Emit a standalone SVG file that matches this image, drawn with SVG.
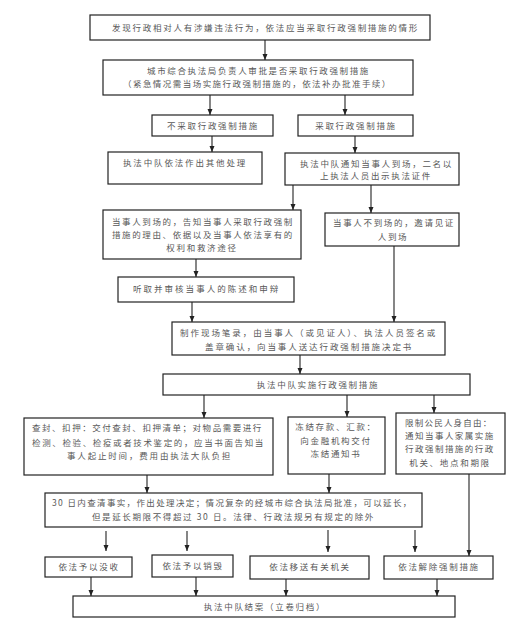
<svg xmlns="http://www.w3.org/2000/svg" width="518" height="630" viewBox="0 0 518 630">
<defs>
<style>
.b{fill:#fff;stroke:#222;stroke-width:1.2}
.t{font-family:"Noto Sans CJK SC","Noto Sans",sans-serif;font-size:8.5px;fill:#585858;letter-spacing:1.7px}
.m{text-anchor:middle}
.c line,.c polyline{stroke:#222;stroke-width:1.1;fill:none;marker-end:url(#a)}
</style>
<marker id="a" markerUnits="userSpaceOnUse" markerWidth="6" markerHeight="6" viewBox="0 0 6 6" refX="6" refY="3" orient="auto"><path d="M0,0.5 L6,3 L0,5.5 z" fill="#222"/></marker>
</defs>
<rect width="518" height="630" fill="#fff"/>
<g id="n1"><rect class="b" x="90" y="15" width="340" height="25"/><text class="t" x="112" y="31" textLength="307">发现行政相对人有涉嫌违法行为，依法应当采取行政强制措施的情形</text></g>
<g id="n2"><rect class="b" x="103" y="60" width="310" height="35"/><text class="t" x="147" y="74" textLength="223">城市综合执法局负责人审批是否采取行政强制措施</text><text class="t" x="123" y="87" textLength="269">（紧急情况需当场实施行政强制措施的，依法补办批准手续）</text></g>
<g id="n3"><rect class="b" x="152" y="115" width="121" height="21"/><text class="t m" x="213" y="129">不采取行政强制措施</text></g>
<g id="n4"><rect class="b" x="298" y="115" width="115" height="21"/><text class="t m" x="356" y="129">采取行政强制措施</text></g>
<g id="n5"><rect class="b" x="108" y="152" width="154" height="32"/><text class="t" x="123" y="166" textLength="124">执法中队依法作出其他处理</text></g>
<g id="n6"><rect class="b" x="285" y="153" width="174" height="32"/><text class="t" x="300" y="167" textLength="153">执法中队通知当事人到场，二名以</text><text class="t" x="320" y="179" textLength="112">上执法人员出示执法证件</text></g>
<g id="n7"><rect class="b" x="103" y="210" width="198" height="49"/><text class="t" x="112" y="225" textLength="182">当事人到场的，告知当事人采取行政强制</text><text class="t" x="112" y="238" textLength="182">措施的理由、依据以及当事人依法享有的</text><text class="t m" x="202" y="251">权利和救济途径</text></g>
<g id="n8"><rect class="b" x="325" y="213" width="134" height="33"/><text class="t" x="333" y="226" textLength="122">当事人不到场的，邀请见证</text><text class="t m" x="393" y="240">人到场</text></g>
<g id="n9"><rect class="b" x="118" y="277" width="176" height="25"/><text class="t" x="133" y="292" textLength="147">听取并审核当事人的陈述和申辩</text></g>
<g id="n10"><rect class="b" x="172" y="322" width="273" height="33"/><text class="t" x="180" y="336" textLength="257">制作现场笔录，由当事人（或见证人）、执法人员签名或</text><text class="t" x="205" y="350" textLength="208">盖章确认，向当事人送达行政强制措施决定书</text></g>
<g id="n11"><rect class="b" x="163" y="374" width="307" height="21"/><text class="t m" x="318" y="388">执法中队实施行政强制措施</text></g>
<g id="n12"><rect class="b" x="24" y="418" width="249" height="57"/><text class="t" x="32" y="431" textLength="231">查封、扣押：交付查封、扣押清单；对物品需要进行</text><text class="t" x="32" y="446" textLength="233">检测、检验、检疫或者技术鉴定的，应当书面告知当</text><text class="t" x="67" y="459" textLength="165">事人起止时间，费用由执法大队负担</text></g>
<g id="n13"><rect class="b" x="288" y="417" width="97" height="57"/><text class="t m" x="336" y="430">冻结存款、汇款：</text><text class="t m" x="336" y="444">向金融机构交付</text><text class="t m" x="336" y="457">冻结通知书</text></g>
<g id="n14"><rect class="b" x="396" y="413" width="109" height="61"/><text class="t" x="405" y="426" textLength="88">限制公民人身自由：</text><text class="t" x="405" y="439" textLength="90">通知当事人家属实施</text><text class="t" x="405" y="452" textLength="90">行政强制措施的行政</text><text class="t m" x="450" y="466">机关、地点和期限</text></g>
<g id="n15"><rect class="b" x="45" y="493" width="377" height="34"/><text class="t" x="52" y="506" textLength="361">30 日内查清事实，作出处理决定；情况复杂的经城市综合执法局批准，可以延长，</text><text class="t" x="92" y="520" textLength="283">但是延长期限不得超过 30 日。法律、行政法规另有规定的除外</text></g>
<g id="n16"><rect class="b" x="45" y="557" width="87" height="20"/><text class="t m" x="89" y="570">依法予以没收</text></g>
<g id="n17"><rect class="b" x="152" y="555" width="81" height="22"/><text class="t m" x="193" y="569">依法予以销毁</text></g>
<g id="n18"><rect class="b" x="250" y="556" width="119" height="23"/><text class="t m" x="310" y="570">依法移送有关机关</text></g>
<g id="n19"><rect class="b" x="384" y="556" width="109" height="23"/><text class="t m" x="439" y="570">依法解除强制措施</text></g>
<g id="n20"><rect class="b" x="73" y="596" width="382" height="21"/><text class="t m" x="265" y="610">执法中队结案（立卷归档）</text></g>
<g class="c" id="connectors">
<line x1="265" y1="40" x2="265" y2="60"/>
<line x1="210" y1="95" x2="210" y2="115"/>
<line x1="345" y1="95" x2="345" y2="115"/>
<line x1="212" y1="136" x2="212" y2="152"/>
<line x1="355" y1="136" x2="355" y2="153"/>
<line x1="293" y1="185" x2="293" y2="210"/>
<line x1="371" y1="185" x2="371" y2="213"/>
<line x1="196" y1="259" x2="196" y2="277"/>
<line x1="192" y1="302" x2="192" y2="322"/>
<line x1="394" y1="246" x2="394" y2="322"/>
<line x1="300" y1="355" x2="300" y2="374"/>
<line x1="204" y1="395" x2="204" y2="418"/>
<line x1="347" y1="395" x2="347" y2="417"/>
<line x1="434" y1="395" x2="434" y2="413"/>
<line x1="147" y1="475" x2="147" y2="493"/>
<line x1="329" y1="474" x2="329" y2="493"/>
<line x1="469" y1="474" x2="469" y2="556"/>
<line x1="106" y1="531" x2="106" y2="551"/>
<line x1="187" y1="531" x2="187" y2="551"/>
<line x1="328" y1="530" x2="328" y2="552"/>
<line x1="415" y1="530" x2="415" y2="552"/>
<line x1="91" y1="577" x2="91" y2="596"/>
<line x1="196" y1="577" x2="196" y2="596"/>
<line x1="286" y1="579" x2="286" y2="596"/>
<line x1="437" y1="579" x2="437" y2="596"/>
</g>
</svg>
